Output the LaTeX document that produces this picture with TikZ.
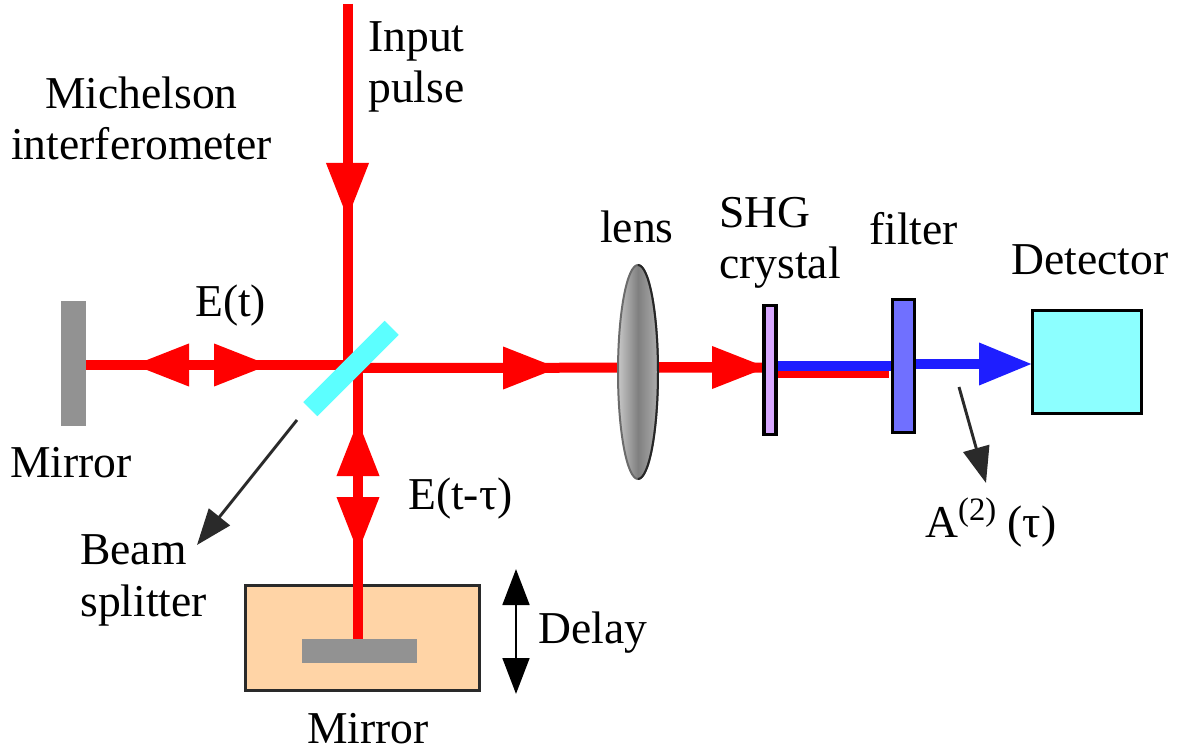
\documentclass[tikz,border=0pt]{standalone}
\usepackage{fontspec}
\setmainfont{Liberation Serif}
\usetikzlibrary{arrows.meta,backgrounds,shapes.geometric}
\definecolor{beamred}{HTML}{FF0000}
\definecolor{beamblue}{HTML}{1E1EFF}
\definecolor{mirrorgray}{HTML}{929292}
\definecolor{splitcyan}{HTML}{5CFFFF}
\definecolor{detcyan}{HTML}{8CFFFF}
\definecolor{crystalfill}{HTML}{D8A8FF}
\definecolor{filterfill}{HTML}{7070FF}
\definecolor{stagefill}{HTML}{FFD4A6}
\definecolor{inkdark}{HTML}{2A2A2A}
\tikzset{
  x=0.75pt,y=-0.75pt,
  redbeam/.style={draw=beamred,line width=7.5pt},
  bluebeam/.style={draw=beamblue,line width=7.5pt},
  redtip/.style={-{Triangle[length=42pt,width=30pt,fill=beamred]}},
  bluetip/.style={-{Triangle[length=40pt,width=30pt,fill=beamblue]}},
  pointer/.style={draw=inkdark,line width=2.2pt,-{Triangle[length=27pt,width=20pt,fill=inkdark]}},
  delayarrow/.style={draw=black,line width=2.2pt,{Triangle[length=27pt,width=20pt,fill=black]}-{Triangle[length=27pt,width=20pt,fill=black]}},
  plate/.style={inner sep=0pt,outer sep=0pt,draw=none},
  framed/.style={inner sep=0pt,outer sep=0pt,draw=black,line width=2.4pt},
  lbl/.style={inner sep=0pt,anchor=base west,yshift=-1.1pt,font=\fontsize{34.2pt}{38pt}\selectfont},
}
\begin{document}
\begin{tikzpicture}
\useasboundingbox (0,0) rectangle (1179,752);
% optical elements
\node[plate,fill=mirrorgray,minimum width=18.75pt,minimum height=93.75pt] (mirrorL) at (73.5,363.5) {};
\node[plate,fill=mirrorgray,minimum width=86.25pt,minimum height=18pt] (mirrorB) at (359.5,651) {};
\node[plate,fill=splitcyan,minimum width=86.25pt,minimum height=15pt,rotate=45] (splitter) at (351,368.5) {};
\node[ellipse,inner sep=0pt,outer sep=0pt,minimum width=30pt,minimum height=160.5pt,draw=black!58,line width=1.5pt,
      left color=black!22,right color=black!32,middle color=black!50] (lens) at (638,372) {};
\draw[black!85,line width=1.5pt] (lens.north) arc[start angle=90,end angle=-90,x radius=15pt,y radius=80.25pt];
\node[framed,fill=crystalfill,minimum width=9pt,minimum height=97pt] (crystal) at (770,370) {};
\node[framed,fill=filterfill,minimum width=17pt,minimum height=100pt] (filter) at (903.5,366) {};
\node[framed,fill=detcyan,minimum width=82pt,minimum height=77.5pt] (detector) at (1087,362) {};
% beam waypoints
\coordinate (inStart) at (347.5,4);
\coordinate (inTip) at (347.5,219);
\coordinate (inEnd) at (347.5,364);
\coordinate (hubL) at (350,365);
\coordinate (tipL) at (133,365);
\coordinate (baseL) at (250,365);
\coordinate (tipLR) at (270,365);
\coordinate (baseLR) at (150,365);
\coordinate (hubB) at (358,365);
\coordinate (tipBU) at (358,420);
\coordinate (baseBU) at (358,530);
\coordinate (tipBD) at (358,553);
\coordinate (baseBD) at (358,440);
\coordinate (hubR) at (352,368);
\coordinate (tipR1) at (559,368);
\coordinate (tipR2) at (768,367.5);
\coordinate (tipR2b) at (640,367.5);
\coordinate (redOut) at (777,373.5);
\coordinate (redEnd) at (889,373.5);
\coordinate (blueOut) at (777,366);
\coordinate (blueEnd) at (891,366);
\coordinate (blueOut2) at (916,364);
\begin{scope}[on background layer]
  \node[framed,draw=inkdark,fill=stagefill,minimum width=176pt,minimum height=79pt] (stage) at (362.5,638) {};
  \draw[redbeam] (inStart) -- (inEnd);
  \draw[redbeam] (mirrorL.east |- hubL) -- (hubL);
  \draw[redbeam] (hubB) -- (mirrorB.north -| hubB);
  \draw[redbeam] (hubR) -- (tipR2);
  \draw[redbeam] (redOut) -- (redEnd);
  \draw[bluebeam] (blueOut) -- (blueEnd);
  \draw[bluebeam,bluetip] (blueOut2) -- (detector.west |- blueOut2);
  \draw[redbeam,redtip] (inStart) -- (inTip);
  \draw[redbeam,redtip] (baseL) -- (tipL);
  \draw[redbeam,redtip] (baseLR) -- (tipLR);
  \draw[redbeam,redtip] (baseBU) -- (tipBU);
  \draw[redbeam,redtip] (baseBD) -- (tipBD);
  \draw[redbeam,redtip] (hubR) -- (tipR1);
  \draw[redbeam,redtip] (tipR2b) -- (tipR2);
\end{scope}
% labels
\node[lbl] (input) at (368,50) {Input};
\node[lbl] (pulse) at (368,101) {pulse};
\node[lbl] (michelson) at (45,107) {Michelson};
\node[lbl] (interf) at (11,158) {interferometer};
\node[lbl] (et) at (195,315) {E(t)};
\node[lbl] (mirrorLtext) at (10,476) {Mirror};
\node[lbl] (etau) at (408,508) {E(t-τ)};
\node[lbl] (beamword) at (80,563) {Beam};
\node[lbl] (splitword) at (80,615) {splitter};
\node[lbl] (delayword) at (538,642) {Delay};
\node[lbl] (mirrorBtext) at (307,742) {Mirror};
\node[lbl] (lensword) at (600,241) {lens};
\node[lbl] (shg) at (719,226) {SHG};
\node[lbl] (crystalword) at (719,277) {crystal};
\node[lbl] (filterword) at (869,243) {filter};
\node[lbl] (detword) at (1011,273) {Detector};
\node[lbl] (aword) at (925,536) {A\raisebox{0.38em}{\fontsize{24.5pt}{26pt}\selectfont (2)} (τ)};
% pointers
\coordinate (splitFrom) at (297,420);
\coordinate (splitTo) at (197,545);
\coordinate (aFrom) at (959,387);
\coordinate (aTo) at (986,483);
\coordinate (delayTop) at (516,569);
\coordinate (delayBot) at (516,694);
\draw[pointer] (splitFrom) -- (splitTo);
\draw[pointer] (aFrom) -- (aTo);
\draw[delayarrow] (delayTop) -- (delayBot);
\end{tikzpicture}
\end{document}
